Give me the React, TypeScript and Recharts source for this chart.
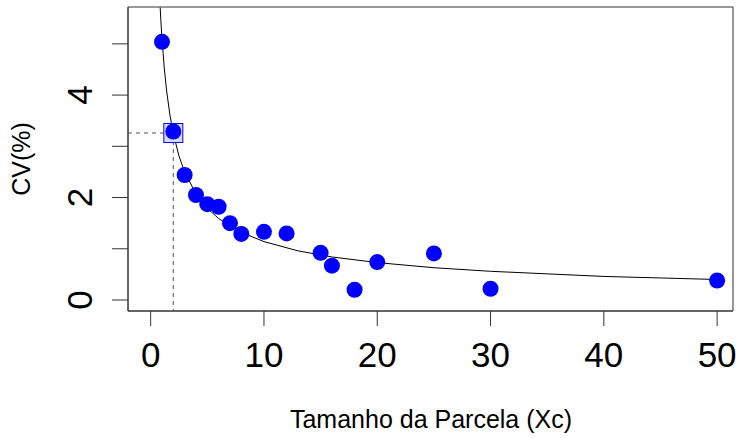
import {
  ComposedChart,
  Scatter,
  Line,
  XAxis,
  YAxis,
  ReferenceLine,
  ReferenceArea,
} from 'recharts';

// plot size (Xc) and observed CV (%)
const plotSize = [1, 2, 3, 4, 5, 6, 7, 8, 10, 12, 15, 16, 18, 20, 25, 30, 50];
const cvValues = [5.04, 3.29, 2.44, 2.05, 1.87, 1.82, 1.5, 1.29, 1.33, 1.3, 0.92, 0.67, 0.2, 0.74, 0.91, 0.22, 0.38];

// fitted curve, read along its path
const curveX = [0.84, 0.9, 1, 1.2, 1.4, 1.7, 2, 2.5, 3, 4, 5, 6, 8, 10, 13, 16, 20, 25, 30, 35, 40, 45, 50];
const curveY = [5.71, 5.46, 5.1, 4.53, 4.1, 3.61, 3.25, 2.81, 2.5, 2.07, 1.79, 1.59, 1.32, 1.14, 0.96, 0.84, 0.73, 0.63, 0.56, 0.51, 0.46, 0.43, 0.4];

// optimum plot size and its CV
const optX = 2;
const optCV = 3.26;

const xTicks = [0, 10, 20, 30, 40, 50];
const yTicks = [0, 1, 2, 3, 4, 5];
const yLabelled = [0, 2, 4];

const X_DOMAIN: [number, number] = [-2, 51.4];
const Y_DOMAIN: [number, number] = [-0.215, 5.72];

const points = plotSize.map((x, i) => ({ x, cv: cvValues[i] }));
const curve = curveX.map((x, i) => ({ x, cv: curveY[i] }));
const optimum = [{ x: optX, cv: optCV }];

const FONT = '"Liberation Sans", Arial, sans-serif';
const AXIS = '#333';

const XTick = (props: any) => {
  const { x, y, payload } = props;
  return (
    <text x={x} y={y + 39} textAnchor="middle" fontSize={35} fontFamily={FONT} fill="#000">
      {payload.value}
    </text>
  );
};

const YTick = (props: any) => {
  const { x, y, payload } = props;
  if (!yLabelled.includes(payload.value)) return <g />;
  const bx = x - 18;
  return (
    <text
      x={bx}
      y={y}
      textAnchor="middle"
      fontSize={35}
      fontFamily={FONT}
      fill="#000"
      transform={`rotate(-90, ${bx}, ${y})`}
    >
      {payload.value}
    </text>
  );
};

const Dot = (props: any) => <circle cx={props.cx} cy={props.cy} r={8} fill="#0000FF" />;

const Square = (props: any) => (
  <rect
    x={props.cx - 9.5}
    y={props.cy - 9.5}
    width={19}
    height={19}
    fill="#d8d8ff"
    stroke="#0000FF"
    strokeWidth={1}
  />
);

export default function App() {
  return (
    <div style={{ position: 'absolute', left: 0, top: 0, background: '#fff' }}>
      <ComposedChart width={736} height={438} margin={{ top: 7, right: 3, left: 0, bottom: 0 }}>
        <XAxis
          type="number"
          dataKey="x"
          domain={X_DOMAIN}
          ticks={xTicks}
          allowDataOverflow
          height={127}
          tickSize={15}
          stroke={AXIS}
          tick={<XTick />}
          label={() => (
            <text x={431} y={428} textAnchor="middle" fontSize={25} fontFamily={FONT} fill="#000">
              Tamanho da Parcela (Xc)
            </text>
          )}
        />
        <YAxis
          type="number"
          dataKey="cv"
          domain={Y_DOMAIN}
          ticks={yTicks}
          allowDataOverflow
          width={128}
          tickSize={16}
          stroke={AXIS}
          tick={<YTick />}
          label={() => (
            <text
              x={30}
              y={159}
              textAnchor="middle"
              fontSize={25}
              fontFamily={FONT}
              fill="#000"
              transform="rotate(-90, 30, 159)"
            >
              CV(%)
            </text>
          )}
        />
        <ReferenceArea
          x1={X_DOMAIN[0]}
          x2={X_DOMAIN[1]}
          y1={Y_DOMAIN[0]}
          y2={Y_DOMAIN[1]}
          fill="none"
          stroke={AXIS}
          strokeWidth={1}
        />
        <Scatter data={optimum} dataKey="cv" shape={<Square />} isAnimationActive={false} />
        <Scatter data={points} dataKey="cv" shape={<Dot />} isAnimationActive={false} />
        <Line
          data={curve}
          dataKey="cv"
          type="linear"
          stroke="#000"
          strokeWidth={1}
          dot={false}
          activeDot={false}
          isAnimationActive={false}
        />
        <ReferenceLine
          segment={[
            { x: X_DOMAIN[0], y: optCV },
            { x: optX, y: optCV },
          ]}
          stroke="#555"
          strokeDasharray="4 4"
        />
        <ReferenceLine
          segment={[
            { x: optX, y: optCV },
            { x: optX, y: Y_DOMAIN[0] },
          ]}
          stroke="#555"
          strokeDasharray="4 4"
        />
      </ComposedChart>
    </div>
  );
}
